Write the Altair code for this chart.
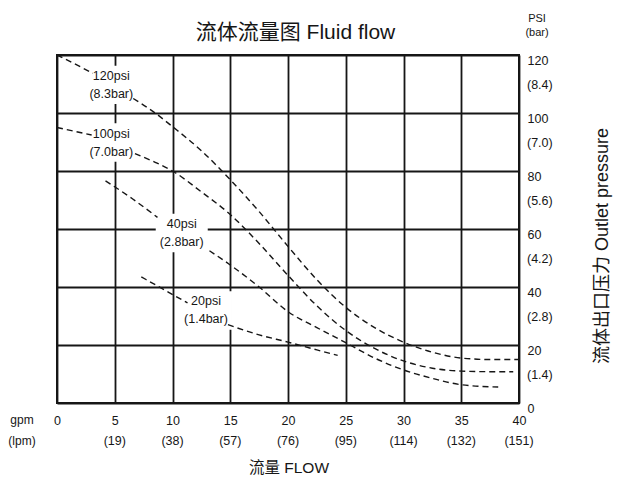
import altair as alt
import pandas as pd

FONT = "Liberation Sans, Arial, Noto Sans CJK SC, sans-serif"
INK = "#161616"

# ---- axis values ----
gpm_ticks = [0, 5, 10, 15, 20, 25, 30, 35, 40]
lpm_labels = ["", "(19)", "(38)", "(57)", "(76)", "(95)", "(114)", "(132)", "(151)"]
psi_ticks = [0, 20, 40, 60, 80, 100, 120]
bar_mid_psi = [110, 90, 70, 50, 30, 10]
bar_labels = ["(8.4)", "(7.0)", "(5.6)", "(4.2)", "(2.8)", "(1.4)"]

# ---- curves (gpm, psi), each split where its label interrupts it ----
c120_a_gpm = [0, 1.5, 3.1]
c120_a_psi = [120, 117, 113.7]
c120_b_gpm = [6.6, 8.5, 10, 12.5, 15, 17.5, 20, 22.5, 25, 27.5, 30, 32.5, 35, 37.5, 40]
c120_b_psi = [105, 100, 95.3, 87, 77, 66, 54, 42.5, 33, 26, 21, 17.5, 15.5, 15, 15]

c100_a_gpm = [0, 1.5, 3.0]
c100_a_psi = [95, 93.7, 92.4]
c100_b_gpm = [6.75, 8.5, 10, 12.5, 15, 17.5, 20, 22.5, 25, 27.5, 30, 32.5, 35, 37.5, 39.5]
c100_b_psi = [86, 83, 80, 72.8, 65, 55, 44, 33.5, 25, 18.8, 14.5, 12, 11, 10.8, 10.8]

c40_a_gpm = [4.2, 6.5, 8.7]
c40_a_psi = [76.6, 70.5, 64]
c40_b_gpm = [13.2, 15, 17.5, 20, 22.5, 25, 27.5, 30, 32.5, 35, 38.2]
c40_b_psi = [52.5, 47.6, 40, 31.5, 26, 20.8, 15.5, 11.4, 8.5, 6.3, 5.5]

c20_a_gpm = [7.3, 9.3, 11.3]
c20_a_psi = [43.5, 39, 34.5]
c20_b_gpm = [14.8, 17.5, 20, 22.5, 24.3]
c20_b_psi = [27, 23.5, 21, 18.3, 16.4]

# ---- curve labels (centre of each two-line label) ----
label_gpm = [4.7, 4.7, 10.8, 12.9]
label_psi = [109.7, 89.8, 58.6, 31.9]
label_text = ["120psi\n(8.3bar)", "100psi\n(7.0bar)", "40psi\n(2.8bar)", "20psi\n(1.4bar)"]

segments = [
    ("120", "a", c120_a_gpm, c120_a_psi), ("120", "b", c120_b_gpm, c120_b_psi),
    ("100", "a", c100_a_gpm, c100_a_psi), ("100", "b", c100_b_gpm, c100_b_psi),
    ("40", "a", c40_a_gpm, c40_a_psi), ("40", "b", c40_b_gpm, c40_b_psi),
    ("20", "a", c20_a_gpm, c20_a_psi), ("20", "b", c20_b_gpm, c20_b_psi),
]
rows = []
for curve, seg, gs, ps in segments:
    for i, (g, p) in enumerate(zip(gs, ps)):
        rows.append({"gpm": g, "psi": p, "seg": curve + seg, "order": i})
curves_df = pd.DataFrame(rows)

labels_df = pd.DataFrame({"gpm": label_gpm, "psi": label_psi, "text": label_text})
lpm_df = pd.DataFrame({"gpm": gpm_ticks, "text": lpm_labels})
bar_df = pd.DataFrame({"psi": bar_mid_psi, "text": bar_labels, "gpm": [40] * len(bar_mid_psi)})

W, H = 462, 348
TICK_FS = 12.5

x_enc = alt.X(
    "gpm:Q",
    scale=alt.Scale(domain=[0, 40], nice=False, zero=False),
    axis=alt.Axis(
        values=gpm_ticks, grid=True, ticks=False, domain=False, title=None,
        labelPadding=11, labelFontSize=TICK_FS, labelFont=FONT, labelColor=INK,
        gridColor=INK, gridWidth=1.8, labelFlush=False,
    ),
)
y_enc = alt.Y(
    "psi:Q",
    scale=alt.Scale(domain=[0, 120], nice=False, zero=False),
    axis=alt.Axis(
        orient="right", values=psi_ticks, grid=True, ticks=False, domain=False, title=None,
        labelPadding=8, labelFontSize=TICK_FS, labelFont=FONT, labelColor=INK,
        labelAlign="left", labelBaseline="middle", labelOffset=5,
        gridColor=INK, gridWidth=1.8, labelFlush=False,
    ),
)

BOX = "M-1,-0.74L1,-0.74L1,0.74L-1,0.74Z"

boxes = alt.Chart(labels_df).mark_point(
    shape=BOX, filled=True, color="white", opacity=1, size=2704, strokeWidth=0
).encode(x=x_enc, y=y_enc)

lines = alt.Chart(curves_df).mark_line(
    color=INK, strokeWidth=1.4, strokeDash=[6, 4], interpolate="monotone"
).encode(x=x_enc, y=y_enc, detail="seg:N", order="order:Q")

curve_labels = alt.Chart(labels_df).mark_text(
    font=FONT, fontSize=12.5, color=INK, lineBreak="\n", lineHeight=18,
    align="center", baseline="middle", dy=-9,
).encode(x=x_enc, y=y_enc, text="text:N")

bar_text = alt.Chart(bar_df).mark_text(
    font=FONT, fontSize=TICK_FS, color=INK, align="left", baseline="middle", dx=8, dy=1
).encode(x=x_enc, y=y_enc, text="text:N")

lpm_text = alt.Chart(lpm_df).mark_text(
    font=FONT, fontSize=TICK_FS, color=INK, align="center", baseline="middle"
).encode(x=x_enc, y=alt.value(H + 38), text="text:N")


def fixed_text(t, x, y, size, angle=0):
    return alt.Chart(pd.DataFrame({"t": [t]})).mark_text(
        font=FONT, fontSize=size, color=INK, align="center", baseline="middle", angle=angle
    ).encode(x=alt.value(x), y=alt.value(y), text="t:N")


title = fixed_text("流体流量图 Fluid flow", 238.5, -22.5, 21)
xtitle = fixed_text("流量 FLOW", 232, 413, 15.5)
ytitle = fixed_text("流体出口压力 Outlet pressure", 546, 191, 18)
ytitle = fixed_text("流体出口压力 Outlet pressure", 546, 191, 18, angle=270)
psi_head = fixed_text("PSI", 480, -36, 11)
bar_head = fixed_text("(bar)", 480, -22, 11)
gpm_head = fixed_text("gpm", -35, H + 17, 12)
lpm_head = fixed_text("(lpm)", -35, H + 38, 12)

chart = alt.layer(
    boxes, lines, curve_labels, bar_text, lpm_text,
    title, xtitle, ytitle, psi_head, bar_head, gpm_head, lpm_head,
).properties(
    width=W, height=H,
    autosize=alt.AutoSizeParams(type="none"),
    padding={"left": 49, "top": 47, "right": 94, "bottom": 72},
    background="white",
).configure_view(
    stroke=INK, strokeWidth=2
)

chart.save("out.html", embed_options={"renderer": "svg", "actions": False})
